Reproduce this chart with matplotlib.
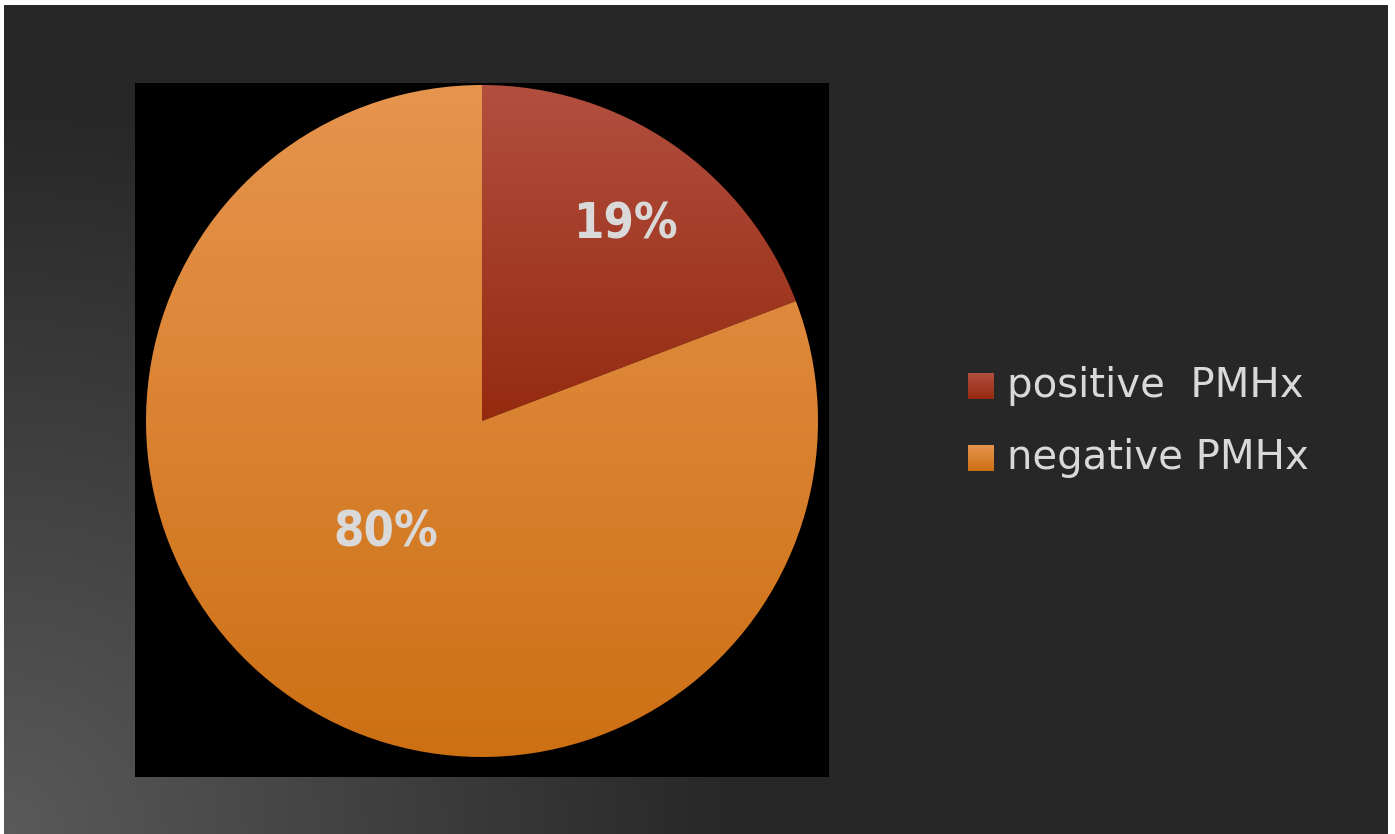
import numpy as np
import matplotlib
matplotlib.use('Agg')
import matplotlib.pyplot as plt
from matplotlib.colors import LinearSegmentedColormap

# 数据
labels = ['positive  PMHx', 'negative PMHx']
values = [19, 80]
pct_text = ['19%', '80%']
# 每块扇区的渐变色 (上 -> 下)
grad_colors = [('#b24f3f', '#952a10'), ('#e6954f', '#cd7014')]

W, H = 1395, 834
fig = plt.figure(figsize=(W / 100, H / 100), dpi=100, facecolor='white')

# 背景：左下角向外的径向渐变
bg = fig.add_axes([4 / W, 0, (1388 - 4) / W, (H - 5) / H])
bg.set_axis_off()
bw, bh = 1388 - 4, H - 5
xx, yy = np.meshgrid(np.arange(bw), np.arange(bh))
d = np.hypot(xx, bh - yy) / 730.0
t = np.clip(1 - d, 0, 1)
lum = (0x27 + (0x5a - 0x27) * t) / 255.0
bg.imshow(np.dstack([lum, lum, lum]), extent=(0, bw, 0, bh), origin='upper', aspect='auto')
bg.set_xlim(0, bw)
bg.set_ylim(0, bh)

# 饼图区域（黑色底）
R = 336.0
cx, cy = 482, 421
ax = fig.add_axes([135 / W, (H - 777) / H, 694 / W, 694 / H])

wedges, _ = ax.pie(values, startangle=90, counterclock=False, radius=1,
                   colors=['none', 'none'], wedgeprops=dict(linewidth=0),
                   frame=True)
ax.set_facecolor('black')
ax.set_xticks([])
ax.set_yticks([])
for s in ax.spines.values():
    s.set_visible(False)
ax.set_xlim(-(cx - 135) / R, (829 - cx) / R)
ax.set_ylim(-(777 - cy) / R, (cy - 83) / R)
ax.set_aspect('auto')

for w, (c_top, c_bot) in zip(wedges, grad_colors):
    ext = w.get_path().get_extents()
    cmap = LinearSegmentedColormap.from_list('g', [c_top, c_bot])
    grad = np.linspace(0, 1, 256).reshape(-1, 1)
    im = ax.imshow(grad, cmap=cmap, aspect='auto', origin='upper',
                   extent=(ext.x0, ext.x1, ext.y0, ext.y1), zorder=1)
    im.set_clip_path(w)
ax.set_xlim(-(cx - 135) / R, (829 - cx) / R)
ax.set_ylim(-(777 - cy) / R, (cy - 83) / R)

# 百分比标签
label_pos = [(0.426, 0.586), (-0.286, -0.333)]
for txt, (lx, ly) in zip(pct_text, label_pos):
    ax.text(lx, ly, txt, ha='center', va='center', color='#d9d9d9',
            fontsize=35, fontweight='bold', fontstretch='condensed',
            family='DejaVu Sans', zorder=3)

# 图例
lg = fig.add_axes([0, 0, 1, 1], facecolor='none')
lg.set_axis_off()
rows_y = [373, 445]
for y0, lab, (c_top, c_bot) in zip(rows_y, labels, grad_colors):
    cmap = LinearSegmentedColormap.from_list('g', [c_top, c_bot])
    grad = np.linspace(0, 1, 64).reshape(-1, 1)
    lg.imshow(grad, cmap=cmap, aspect='auto', origin='upper',
              extent=(968, 994, y0 + 26, y0))
    lg.text(1007, y0 + 13, lab, ha='left', va='center', color='#d9d9d9',
            fontsize=29, family='DejaVu Sans')
lg.set_xlim(0, W)
lg.set_ylim(H, 0)

fig.savefig('out.png', dpi=100, facecolor=fig.get_facecolor())
